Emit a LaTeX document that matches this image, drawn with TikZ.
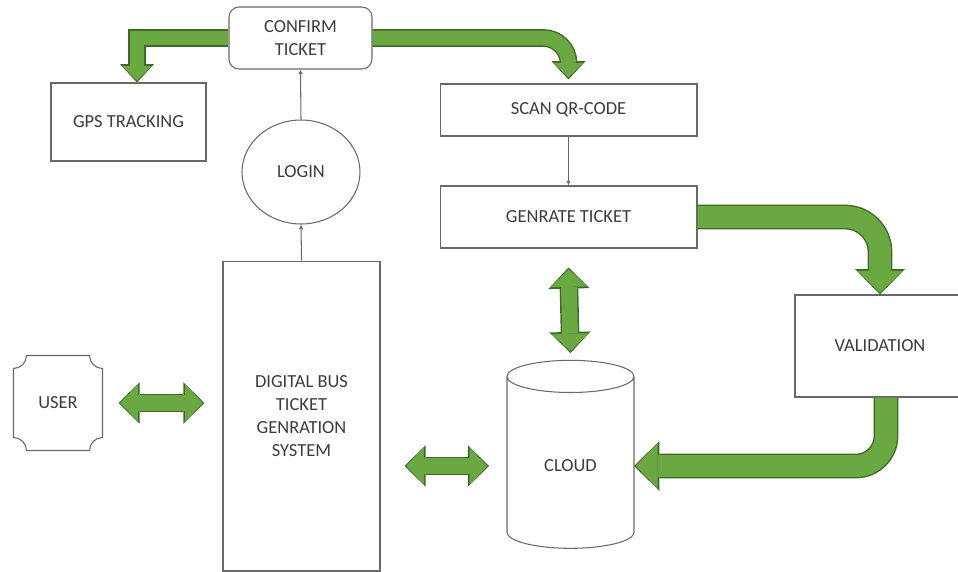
\documentclass[tikz,border=0pt]{standalone}
\usepackage{fontspec}
\setmainfont{Carlito}
\usepackage{tikz}
\usetikzlibrary{arrows.meta, shapes.geometric}

\definecolor{boxgray}{RGB}{105,105,105}
\definecolor{textgray}{RGB}{60,60,60}
\definecolor{pipegreen}{RGB}{106,168,66}
\definecolor{pipeedge}{RGB}{62,105,40}

\tikzset{
    box/.style={draw=boxgray, line width=0.6pt, text=textgray, align=center,
        font=\fontsize{10.5}{13}\selectfont},
    thinline/.style={draw=boxgray, line width=0.6pt, -{Latex[length=2.5pt, width=2.5pt]}},
    % green block arrows: dark rim first, light body on top
    smallpipe/.style={draw=pipegreen, line width=8.5pt, shorten >=1pt,
        -{Triangle[length=8.5pt 0 0, width=17pt 0 0, line width=0pt]},
        preaction={draw=pipeedge, line width=10.1pt, shorten >=0pt,
            -{Triangle[length=10.5pt 0 0, width=19.5pt 0 0, line width=0pt]}}},
    bigpipe/.style={draw=pipegreen, line width=12.5pt, shorten >=1pt,
        -{Triangle[length=12.5pt 0 0, width=26pt 0 0, line width=0pt]},
        preaction={draw=pipeedge, line width=14.1pt, shorten >=0pt,
            -{Triangle[length=14.5pt 0 0, width=28.5pt 0 0, line width=0pt]}}},
    swappipe/.style={draw=pipegreen, line width=9pt, shorten >=1pt, shorten <=1pt,
        {Triangle[length=10pt 0 0, width=21pt 0 0, line width=0pt]}-{Triangle[length=10pt 0 0, width=21pt 0 0, line width=0pt]},
        preaction={draw=pipeedge, line width=10.6pt, shorten >=0pt, shorten <=0pt,
            {Triangle[length=12pt 0 0, width=23.5pt 0 0, line width=0pt]}-{Triangle[length=12pt 0 0, width=23.5pt 0 0, line width=0pt]}}}
}

\begin{document}
\begin{tikzpicture}[x=0.02cm, y=-0.02cm]
    \useasboundingbox (0,0) rectangle (958,572);

    % boxes
    \node[box, rounded corners=0.2cm, minimum width=2.86cm, minimum height=1.24cm] (confirm) at (300.5,38) {CONFIRM\\TICKET};
    \node[box, minimum width=3.1cm, minimum height=1.56cm] (gps) at (128.5,122) {GPS TRACKING};
    \node[box, ellipse, minimum width=2.36cm, minimum height=2.08cm] (login) at (301,172) {LOGIN};
    \node[box, minimum width=3.14cm, minimum height=6.2cm] (dbts) at (301.5,416) {DIGITAL BUS\\TICKET\\GENRATION\\SYSTEM};
    \node[box, minimum width=5.14cm, minimum height=1.04cm] (scan) at (568.5,110) {SCAN QR-CODE};
    \node[box, minimum width=5.14cm, minimum height=1.24cm] (genrate) at (568.5,217) {GENRATE TICKET};
    \node[box, minimum width=3.4cm, minimum height=2.04cm] (valid) at (880,346) {VALIDATION};
    \node[box, cylinder, shape border rotate=90, aspect=0.5, minimum width=2.54cm, minimum height=3.76cm] (cloud) at (570.5,466) {CLOUD};

    % user box with hollow corners
    \node[box, draw=none, minimum width=1.76cm, minimum height=1.88cm] (user) at (58,403) {USER};
    \draw[draw=boxgray, line width=0.6pt]
        ([xshift=0.26cm]user.north west) -- ([xshift=-0.26cm]user.north east)
        arc[start angle=180, end angle=270, radius=0.26cm] -- ([yshift=0.26cm]user.south east)
        arc[start angle=90, end angle=180, radius=0.26cm] -- ([xshift=0.26cm]user.south west)
        arc[start angle=0, end angle=90, radius=0.26cm] -- ([yshift=-0.26cm]user.north west)
        arc[start angle=270, end angle=360, radius=0.26cm] -- cycle;

    % thin links
    \draw[thinline] (login.north) -- (confirm.south);
    \draw[thinline] (dbts.north) -- (login.south);
    \draw[thinline] (scan.south) -- (genrate.north);

    % green arrows
    \draw[smallpipe] (confirm.west) -| ([xshift=0.17cm]gps.north);
    \draw[smallpipe, rounded corners=0.5cm] (confirm.east) -| ([yshift=0.08cm]scan.north);
    \draw[bigpipe, rounded corners=0.7cm] (genrate.east) -| (valid.north);
    \draw[bigpipe, rounded corners=0.6cm] ([xshift=0.12cm]valid.south) |- ([xshift=1.27cm]cloud.center);
    \draw[swappipe] ([xshift=0.32cm]user.east) -- ([xshift=-0.36cm]user.east -| dbts.west);
    \draw[swappipe] ([yshift=-0.38cm]genrate.south) -- ([yshift=2.26cm]cloud.center);
    \draw[swappipe] ([xshift=0.48cm]dbts.east |- cloud.center) -- ([xshift=-1.63cm]cloud.center);
\end{tikzpicture}
\end{document}
